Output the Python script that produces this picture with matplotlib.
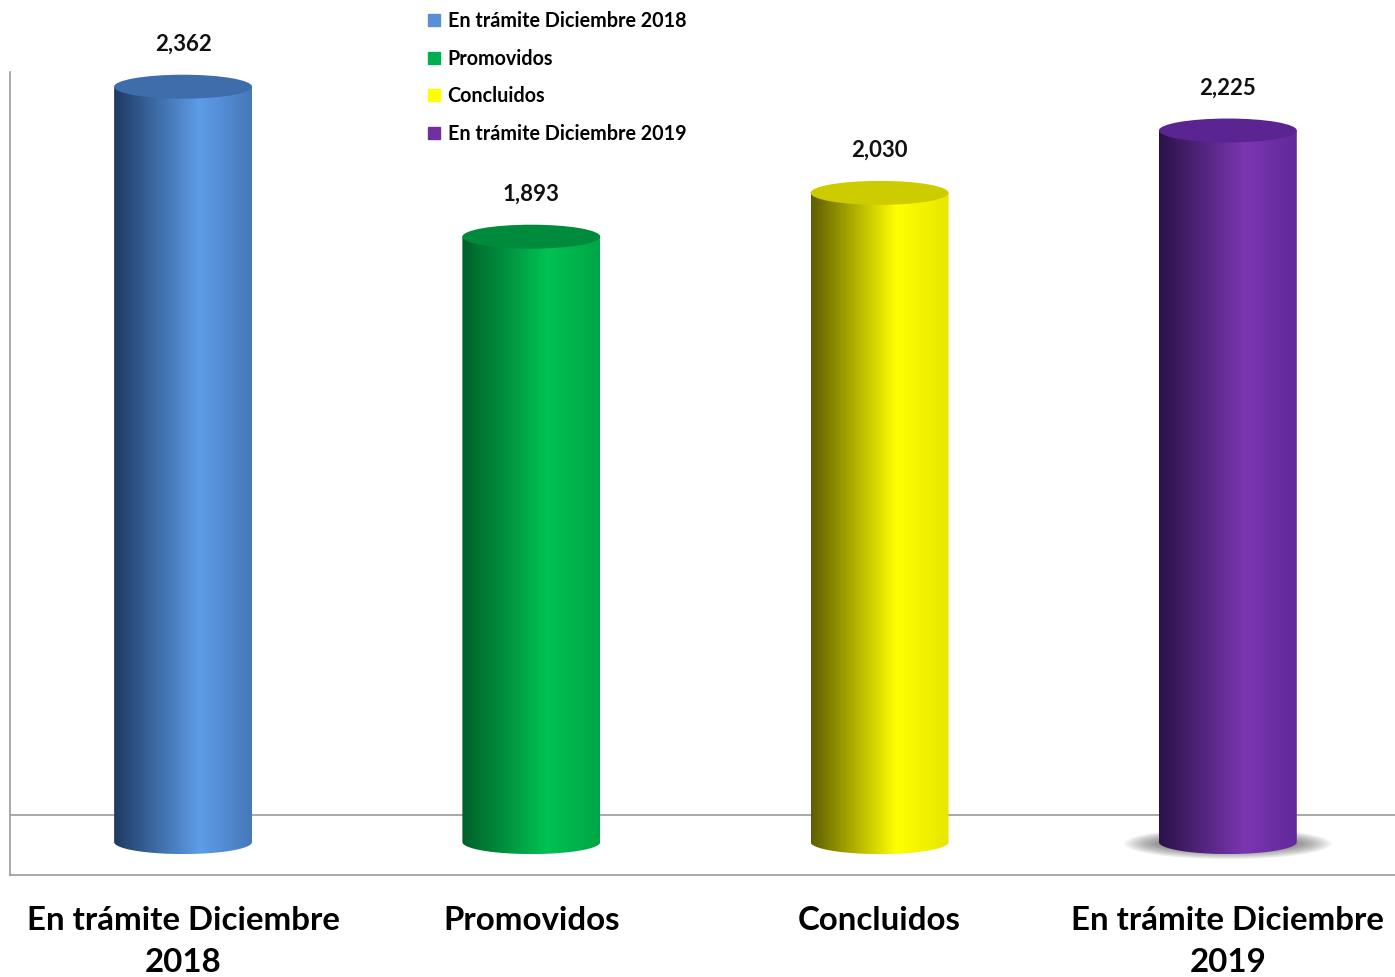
import numpy as np
import matplotlib.pyplot as plt
from matplotlib.patches import Ellipse, PathPatch
from matplotlib.path import Path
from matplotlib.colors import LinearSegmentedColormap
from matplotlib.lines import Line2D

# --- datos ---
categorias = ["En trámite Diciembre\n2018", "Promovidos", "Concluidos", "En trámite Diciembre\n2019"]
leyenda = ["En trámite Diciembre 2018", "Promovidos", "Concluidos", "En trámite Diciembre 2019"]
valores = [2362, 1893, 2030, 2225]
etiquetas = ["2,362", "1,893", "2,030", "2,225"]

# colores: (izquierda oscura, brillo, derecha, tapa)
colores = [
    ("#1e3a63", "#5e9de8", "#4678bb", "#3f6cab"),
    ("#00602a", "#00c253", "#00a644", "#008a3b"),
    ("#5e5e00", "#ffff00", "#e6e600", "#cccc00"),
    ("#2a1248", "#7b36b2", "#62289a", "#5a2590"),
]
leyenda_col = ["#5a8fd6", "#00b050", "#ffff00", "#7030a0"]

plt.rcParams['font.family'] = ['Lato', 'DejaVu Sans']

fig = plt.figure(figsize=(13.95, 9.77), dpi=100)
ax = fig.add_axes([10 / 1395, 102 / 977, 1385 / 1395, 803 / 977])

ymin, ymax = -103, 2408
ax.set_xlim(-0.497, 3.48)
ax.set_ylim(ymin, ymax)

ancho = 0.396
elip_h = 75  # alto de la elipse en unidades de datos

# piso
ax.axhline(84, color="#9a9a9a", lw=1.2, zorder=0)

# sombra bajo la última barra
for k in range(14):
    ax.add_patch(Ellipse((3, -5), ancho * (1.5 - k * 0.04), elip_h * (1.3 - k * 0.06),
                         color="#444444", alpha=0.06, lw=0, zorder=1))

t = np.linspace(np.pi, 2 * np.pi, 60)
for i, (v, c) in enumerate(zip(valores, colores)):
    x0, x1 = i - ancho / 2, i + ancho / 2
    cmap = LinearSegmentedColormap.from_list("c%d" % i, [(0, c[0]), (0.62, c[1]), (1, c[2])])
    grad = np.linspace(0, 1, 256).reshape(1, -1)
    im = ax.imshow(grad, cmap=cmap, extent=[x0, x1, -elip_h / 2, v], aspect="auto",
                   interpolation="bicubic", zorder=2)
    xs = i + ancho / 2 * np.cos(t)
    ys = elip_h / 2 * np.sin(t)
    verts = [(x0, v)] + list(zip(xs, ys)) + [(x1, v), (x0, v)]
    clip = PathPatch(Path(verts, closed=True), transform=ax.transData, facecolor="none", lw=0)
    ax.add_patch(clip)
    im.set_clip_path(clip)
    ax.add_patch(Ellipse((i, v), ancho, elip_h, facecolor=c[3], edgecolor="none", zorder=3))
    ax.annotate(etiquetas[i], (i, v), xytext=(0, 23), textcoords="offset points",
                ha="center", va="bottom", fontsize=16, fontweight="bold", color="#111111")

for s in ["top", "right"]:
    ax.spines[s].set_visible(False)
ax.spines["left"].set_color("#9a9a9a")
ax.spines["bottom"].set_color("#9a9a9a")
ax.spines["left"].set_linewidth(1.2)
ax.spines["bottom"].set_linewidth(1.2)
ax.set_yticks([])
ax.set_xticks(range(4))
ax.set_xticklabels(categorias, fontsize=23.8, fontweight="bold", linespacing=1.58)
ax.tick_params(axis="x", length=0, pad=22)

handles = [Line2D([], [], marker="s", ls="none", markersize=9, markerfacecolor=col,
                  markeredgecolor=col) for col in leyenda_col]
fig.legend(handles, leyenda, loc="upper left", bbox_to_anchor=(412 / 1395, 1 + 3 / 977),
           frameon=False, handlelength=0.8, handletextpad=0.3,
           labelspacing=0.9, borderpad=0.2, prop={"weight": "bold", "size": 14.2})

fig.savefig("out.png", dpi=100)
